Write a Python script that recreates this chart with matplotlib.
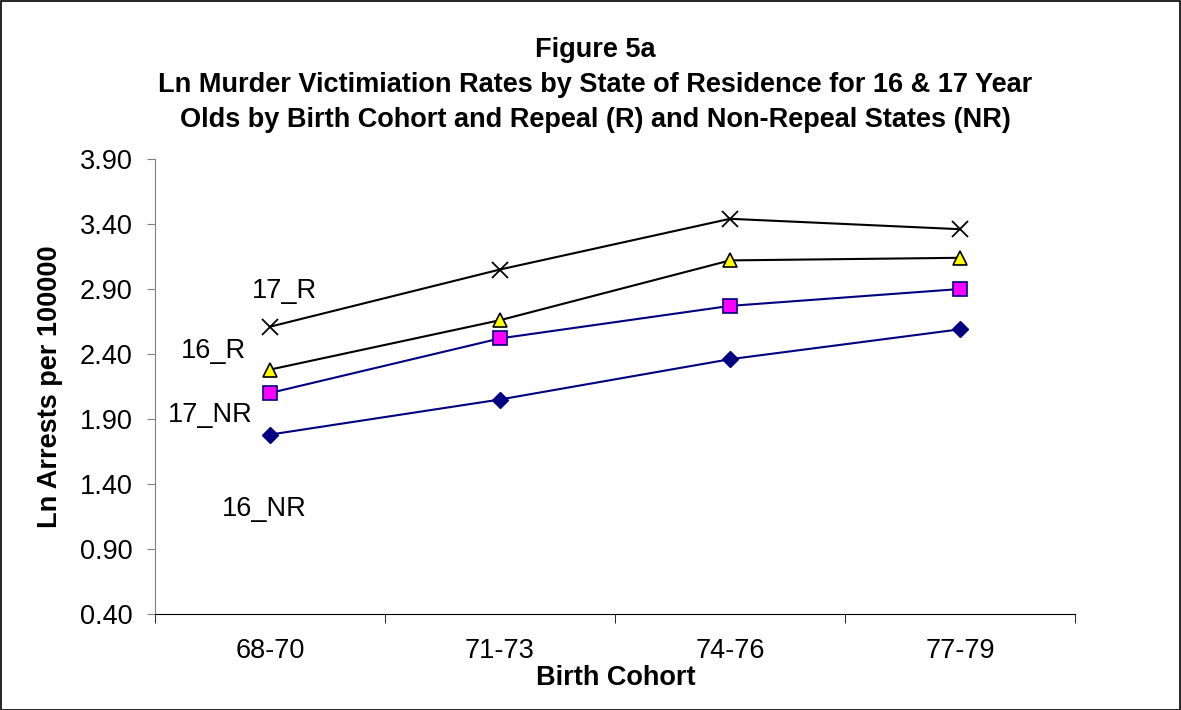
import matplotlib
matplotlib.use("Agg")
import matplotlib.pyplot as plt
from matplotlib.patches import Rectangle

plt.rcParams['font.family'] = ['Liberation Sans', 'DejaVu Sans']

categories = ["68-70", "71-73", "74-76", "77-79"]
r17 = [2.61, 3.05, 3.44, 3.36]
r16 = [2.28, 2.66, 3.12, 3.14]
nr17 = [2.10, 2.52, 2.77, 2.90]
nr16 = [1.78, 2.05, 2.36, 2.59]
series_names = ["17_R", "16_R", "17_NR", "16_NR"]
y_ticks = [0.40, 0.90, 1.40, 1.90, 2.40, 2.90, 3.40, 3.90]

FS = 19.5
W, H = 1181, 710
fig = plt.figure(figsize=(W / 100, H / 100), dpi=100)
ax = fig.add_axes([155 / W, 1 - 614 / H, (1075 - 155) / W, (614 - 159) / H])

x = list(range(len(categories)))
navy = "#000080"
ax.plot(x, nr16, color=navy, lw=1.5, marker="D", ms=8, mfc=navy, mec=navy, zorder=3)
ax.plot(x, nr17, color=navy, lw=1.5, marker="s", ms=9.5, mfc="#FF00FF", mec=navy, mew=1.2, zorder=3)
ax.plot(x, r16, color="black", lw=1.5, marker="^", ms=10, mfc="#FFFF00", mec="black", mew=1.2, zorder=3)
ax.plot(x, r17, color="black", lw=1.5, marker="x", ms=11, mec="black", mew=1.3, zorder=3)

ax.set_xlim(-0.5, len(categories) - 0.5)
ax.set_ylim(y_ticks[0], y_ticks[-1])
ax.set_yticks(y_ticks)
ax.set_yticklabels([f"{v:.2f}" for v in y_ticks], fontsize=FS)
ax.set_xticks(x)
ax.set_xticklabels(categories, fontsize=FS)
ax.tick_params(axis="x", length=0, pad=17.5)
ax.set_xticks([i - 0.5 for i in range(len(categories) + 1)], minor=True)
ax.tick_params(axis="x", which="minor", length=6.5, direction="out", color="black")
ax.tick_params(axis="y", length=6, direction="out", color="#808080", pad=10)

for s in ["top", "right"]:
    ax.spines[s].set_visible(False)
ax.spines["left"].set_color("#808080")
ax.spines["bottom"].set_color("black")

# series labels (baseline positions)
label_pos = [(0.063, 2.83), (-0.248, 2.37), (-0.259, 1.88), (-0.026, 1.154)]
for name, (lx, ly) in zip(series_names, label_pos):
    ax.text(lx, ly, name, fontsize=FS, ha="center", va="baseline")

cx = 595 / W
fig.text(cx, 1 - 57 / H, "Figure 5a", ha="center", va="baseline", fontsize=FS, fontweight="bold")
fig.text(cx, 1 - 92 / H, "Ln Murder Victimiation Rates by State of Residence for 16 & 17 Year",
         ha="center", va="baseline", fontsize=FS, fontweight="bold")
fig.text(cx, 1 - 127 / H, "Olds by Birth Cohort and Repeal (R) and Non-Repeal States (NR)",
         ha="center", va="baseline", fontsize=FS, fontweight="bold")

fig.text(616 / W, 1 - 685 / H, "Birth Cohort", ha="center", va="baseline", fontsize=FS, fontweight="bold")
fig.text(50 / W, 1 - 387 / H, "Ln Arrests per 100000", ha="center", va="center",
         fontsize=FS, fontweight="bold", rotation=90)

fig.patches.append(Rectangle((0.5 / W, 0.5 / H), 1 - 1.5 / W, 1 - 1.5 / H,
                             transform=fig.transFigure, fill=False, edgecolor="black", lw=1.2))

fig.savefig("out.png", dpi=100)
